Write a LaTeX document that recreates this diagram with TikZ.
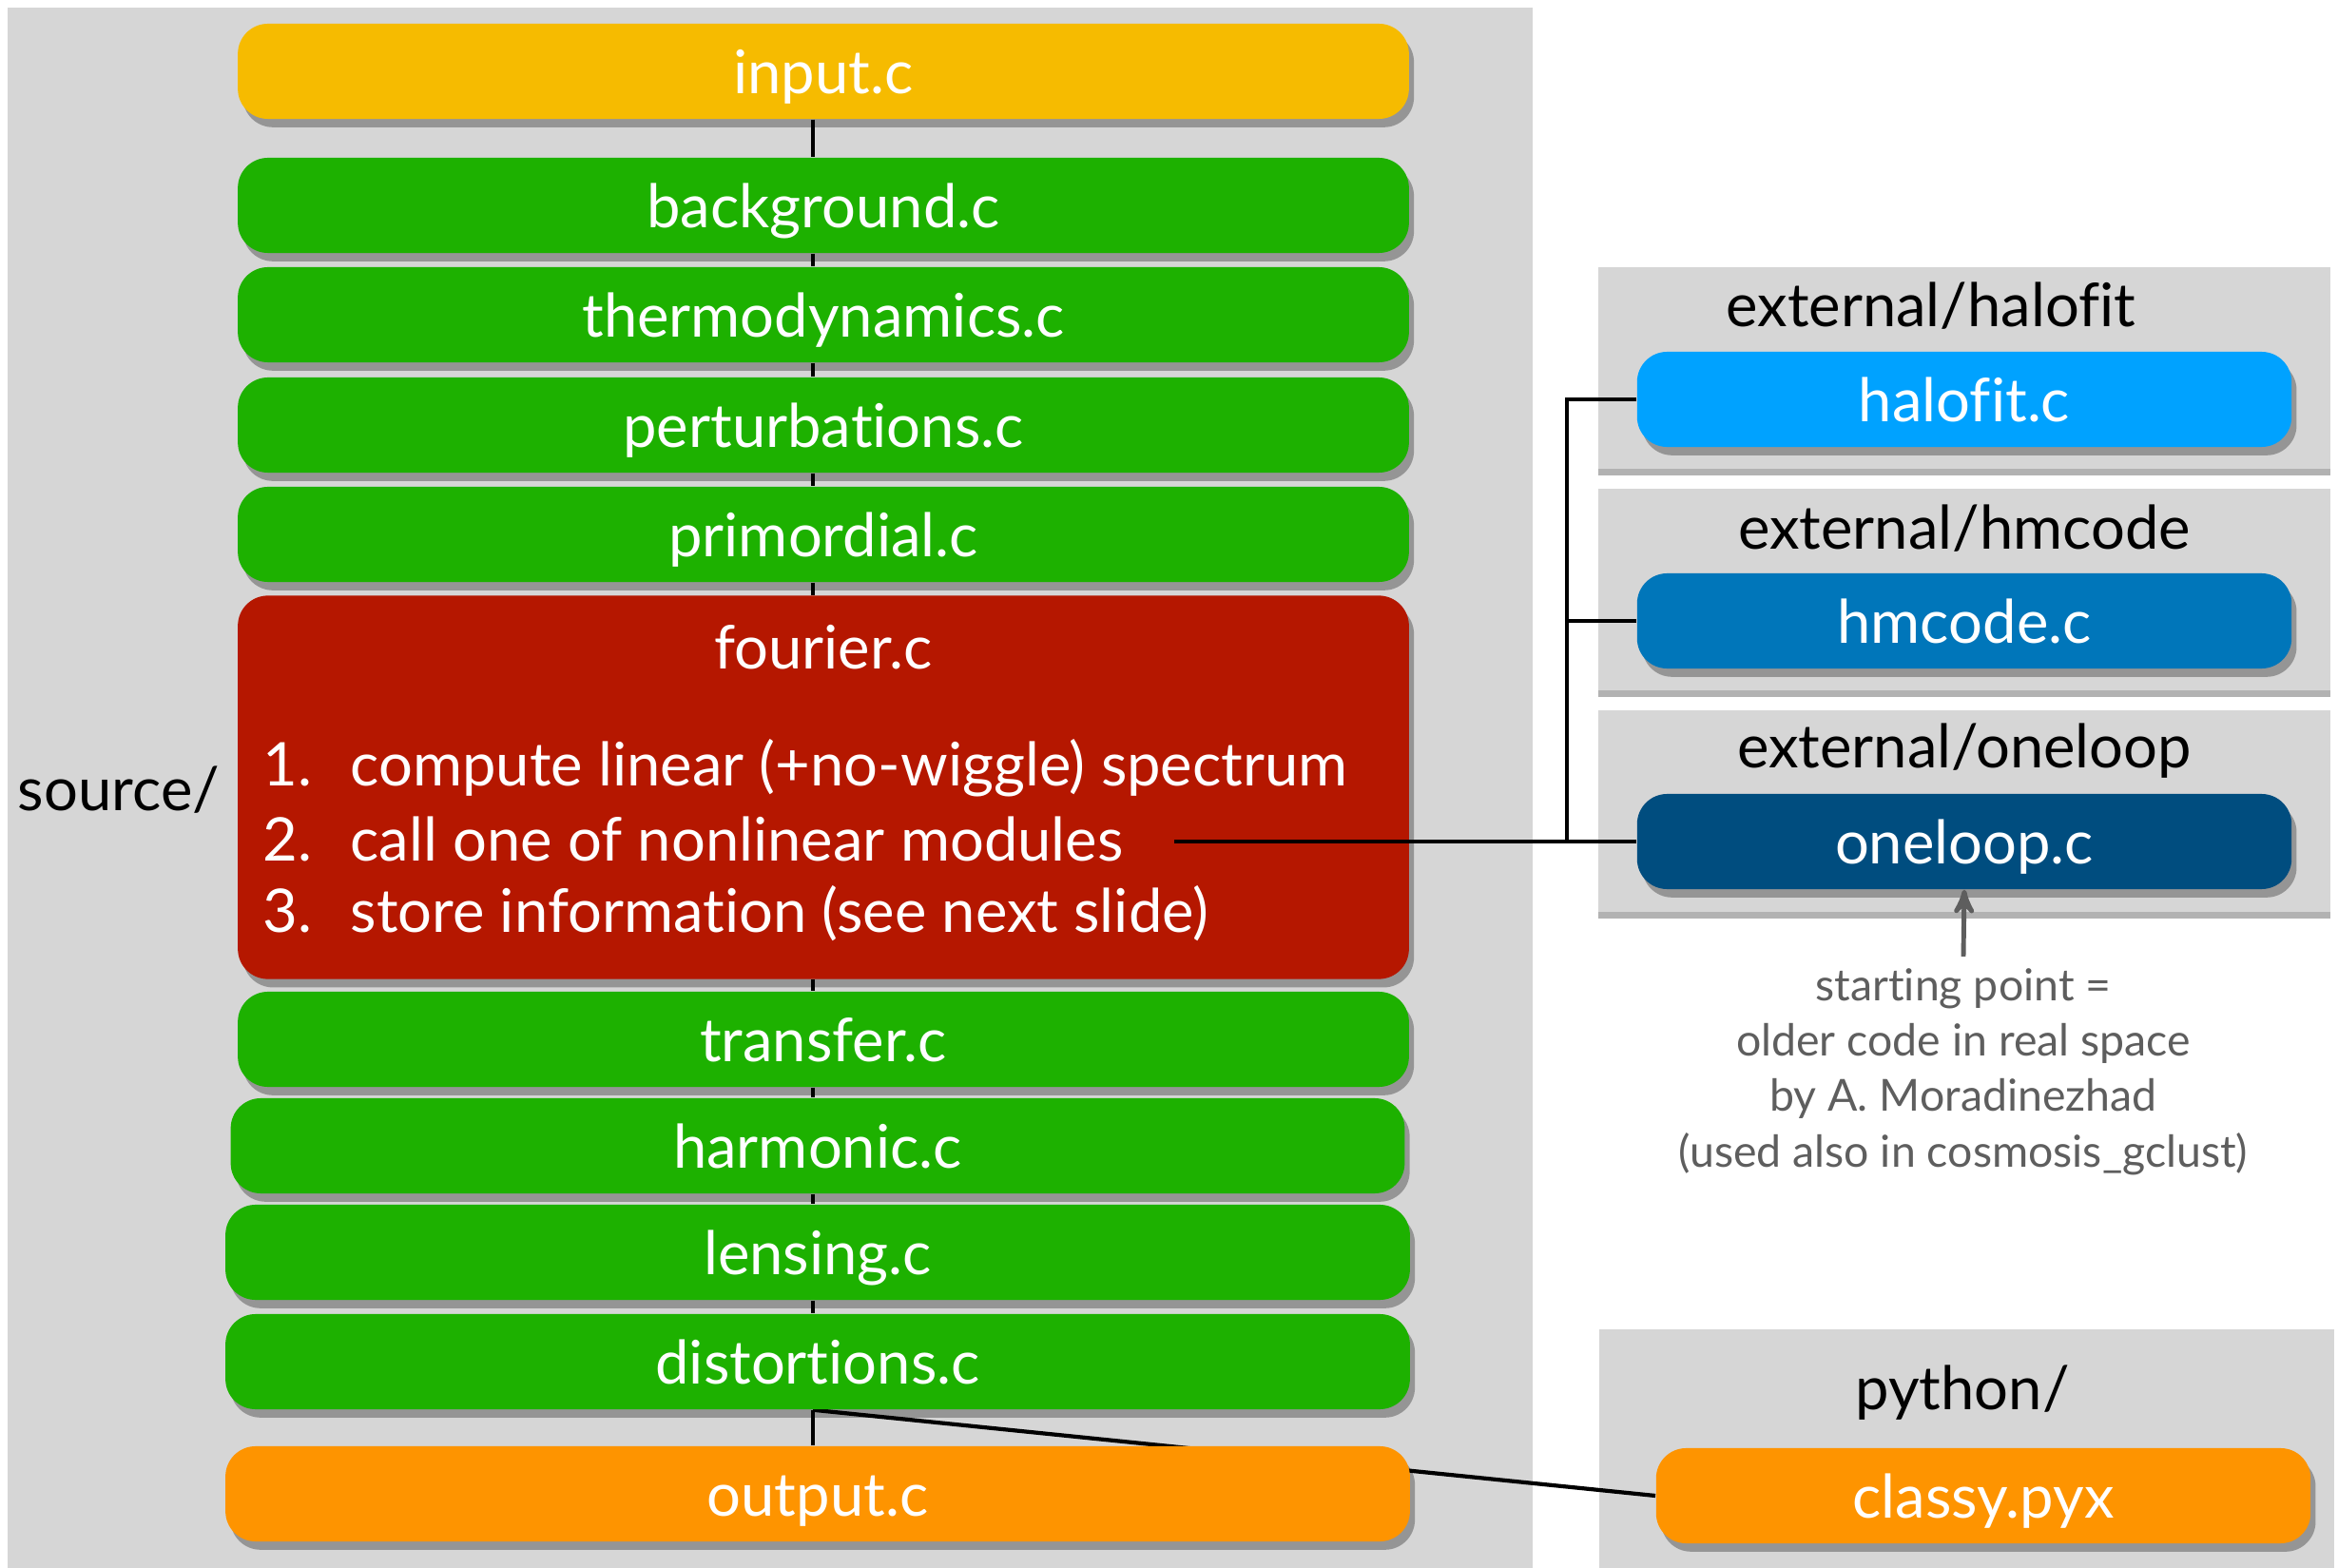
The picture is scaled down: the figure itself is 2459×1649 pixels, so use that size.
\documentclass[tikz,border=0pt]{standalone}
\usepackage{fontspec}
\setmainfont{Lato}[Ligatures={NoCommon}]
\usepackage{tikz}
\usetikzlibrary{positioning}
\usetikzlibrary{arrows}
\usetikzlibrary{shadows}

\definecolor{panelgray}{HTML}{D6D6D6}
\definecolor{inyellow}{HTML}{F6BB00}
\definecolor{modgreen}{HTML}{1DB100}
\definecolor{fourred}{HTML}{B51700}
\definecolor{outorange}{HTML}{FE9400}
\definecolor{halblue}{HTML}{00A2FF}
\definecolor{hmblue}{HTML}{0076BA}
\definecolor{oneblue}{HTML}{004D7F}
\definecolor{notegray}{HTML}{5E5E5E}

\pgfdeclarelayer{back}
\pgfsetlayers{back,main}

\newcommand{\fitem}[2]{\makebox[0.92cm][l]{#1}#2}

\tikzset{
  module/.style={rounded corners=9pt, minimum width=12.31cm, minimum height=1cm,
    text=white, font=\fontsize{18}{21}\selectfont, text height=13.3pt, text depth=0pt,
    drop shadow={shadow xshift=1.5pt, shadow yshift=-2.5pt, opacity=0.3, fill=black}},
  extmod/.style={module, minimum width=6.88cm},
  panel/.style={fill=panelgray, draw=none},
  extpanel/.style={panel, minimum width=7.7cm, minimum height=2.12cm,
    drop shadow={shadow xshift=0pt, shadow yshift=-2pt, opacity=0.3, fill=black}},
  title/.style={font=\fontsize{18}{21}\selectfont, text=black},
  listitem/.style={anchor=west, text=white, font=\fontsize{18}{21}\selectfont,
    inner sep=0pt, text height=13.3pt, text depth=0pt},
  spine/.style={draw=black, line width=0.9pt},
  wire/.style={draw=black, line width=1.2pt},
  note/.style={text=notegray, align=center, font=\fontsize{13.2}{16.6}\selectfont}
}

\begin{document}
\begin{tikzpicture}[x=0.01cm,y=-0.01cm,>=stealth']
\useasboundingbox (0,0) rectangle (2459,1649);

\begin{pgfonlayer}{back}
\fill[panelgray] (8,8) rectangle (1612,1665);
\fill[panelgray] (1682,1398) rectangle (2455,1665);
\end{pgfonlayer}
\node[extpanel] (halopanel) at (2066,387) {};
\node[extpanel] (hmpanel) at (2066,620) {};
\node[extpanel] (onepanel) at (2066,853) {};

\coordinate (spine) at (855,0);
\coordinate (bus) at (1648,0);

\node[module, fill=inyellow] (input) at (866,75) {input.c};
\node[module, fill=modgreen] (background) at (866,216) {background.c};
\node[module, fill=modgreen] (thermo) at (866,331) {thermodynamics.c};
\node[module, fill=modgreen] (perturb) at (866,447) {perturbations.c};
\node[module, fill=modgreen] (primordial) at (866,562) {primordial.c};
\node[module, fill=fourred, minimum height=4.03cm] (fourier) at (866,828) {};
\node[module, fill=modgreen] (transfer) at (866,1093) {transfer.c};
\node[module, fill=modgreen, minimum width=12.34cm] (harmonic) at (860,1205) {harmonic.c};
\node[module, fill=modgreen, minimum width=12.45cm] (lensing) at (860,1317) {lensing.c};
\node[module, fill=modgreen, minimum width=12.45cm] (distortions) at (860,1432) {distortions.c};
\node[module, fill=outorange, minimum width=12.45cm] (output) at (860,1571) {output.c};

\node[title, text=white] (fouriertitle) at (866,681) {fourier.c};
\node[listitem] (compute) at (276,803) {\fitem{1.}{compute linear (+no-wiggle) spectrum}};
\node[listitem] (call) at (276,882) {\fitem{2.}{call one of nonlinear modules}};
\node[listitem] (store) at (276,957) {\fitem{3.}{store information (see next slide)}};

\node[title] (source) at (125,831) {source/};

\node[title] (halotitle) at (2031,322) {external/halofit};
\node[title] (hmtitle) at (2066,556) {external/hmcode};
\node[title] (onetitle) at (2066,790) {external/oneloop};
\node[title] (pytitle) at (2064,1465) {python/};

\node[extmod, fill=halblue] (halofit) at (2066,420) {halofit.c};
\node[extmod, fill=hmblue] (hmcode) at (2066,653) {hmcode.c};
\node[extmod, fill=oneblue] (oneloop) at (2066,885) {oneloop.c};
\node[extmod, fill=outorange] (classy) at (2086,1573) {classy.pyx};

\node[note] (start) at (2065,1127) {starting point =\\older code in real space\\by A. Moradinezhad\\(used also in cosmosis\_gclust)};

\foreach \a/\b in {input/background, background/thermo, thermo/perturb,
  perturb/primordial, primordial/fourier, fourier/transfer, transfer/harmonic,
  harmonic/lensing, lensing/distortions, distortions/output}
  \draw[spine] (\a.south -| spine) -- (\b.north -| spine);

\begin{pgfonlayer}{back}
\draw[wire] (distortions.south -| spine) -- (classy.west);
\end{pgfonlayer}

\draw[wire] ([xshift=0.53cm]call.east |- oneloop.west) -- (oneloop.west);
\draw[wire] (halofit.west) -| (bus |- oneloop.west);
\draw[wire] (hmcode.west) -- (bus |- hmcode.west);

\draw[->, draw=notegray, line width=1.4pt] (start.north) -- (oneloop.south);
\end{tikzpicture}
\end{document}
